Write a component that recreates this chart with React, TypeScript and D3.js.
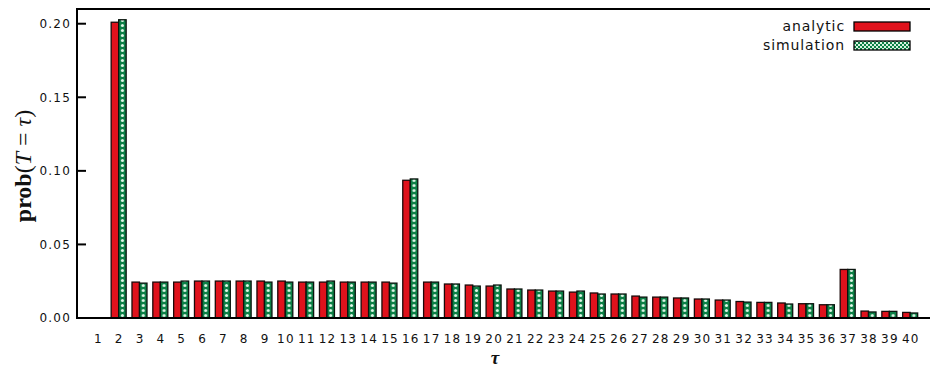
import React from "react";
import * as d3 from "d3";

// Waiting-time distribution: analytic prediction vs. simulation
const taus = d3.range(1, 41);
const analytic = [
  0, 0.201, 0.0244, 0.0244, 0.0244, 0.0251, 0.0251, 0.0251, 0.0251, 0.0251,
  0.0244, 0.0244, 0.0244, 0.0244, 0.0244, 0.0936, 0.0244, 0.0231, 0.0224, 0.0217,
  0.0197, 0.019, 0.0183, 0.0176, 0.017, 0.0163, 0.0149, 0.0142, 0.0136, 0.0129,
  0.0122, 0.0112, 0.0106, 0.0102, 0.0097, 0.009, 0.033, 0.0047, 0.0045, 0.0038,
];
const simulation = [
  0, 0.2027, 0.0237, 0.0244, 0.0251, 0.0251, 0.0251, 0.0251, 0.0244, 0.0244,
  0.0244, 0.0251, 0.0244, 0.0244, 0.0237, 0.0945, 0.0244, 0.0231, 0.0217, 0.0224,
  0.0197, 0.019, 0.0183, 0.0183, 0.0163, 0.0163, 0.0142, 0.0142, 0.0136, 0.0129,
  0.0122, 0.0108, 0.0106, 0.0095, 0.0097, 0.009, 0.033, 0.0041, 0.0045, 0.0034,
];
const yTicks = [0, 0.05, 0.1, 0.15, 0.2];

const W = 930;
const H = 368;
const left = 77;
const right = 931;
const top = 9;
const bottom = 318;

const RED = "#e0121c";
const GREEN = "#0c8046";
const tickFont = "'DejaVu Sans', sans-serif";

export default function App() {
  const x = d3.scaleLinear().domain([0, 41]).range([left, right]);
  const y = d3.scaleLinear().domain([0, 0.21]).range([bottom, top]);
  const step = x(2) - x(1);
  const bw = step * 0.36;

  return (
    <svg
      width={W}
      height={H}
      style={{ position: "absolute", left: 0, top: 0, background: "#fff" }}
    >
      <defs>
        <pattern
          id="dots"
          patternUnits="userSpaceOnUse"
          x={x(1) + bw / 2 - step / 2}
          y={bottom}
          width={step}
          height={5}
        >
          <rect width={step} height={5} fill={GREEN} />
          <circle cx={step / 2} cy={2.5} r={1.5} fill="#e2f7e8" />
        </pattern>
        <pattern id="checker" patternUnits="userSpaceOnUse" width={4} height={4}>
          <rect width={4} height={4} fill="#d8f2e0" />
          <rect width={2} height={2} fill={GREEN} />
          <rect x={2} y={2} width={2} height={2} fill={GREEN} />
        </pattern>
      </defs>

      {/* bars */}
      {taus.map((t, i) => (
        <g key={t}>
          {analytic[i] > 0 && (
            <rect
              x={x(t) - bw}
              y={y(analytic[i])}
              width={bw}
              height={bottom - y(analytic[i])}
              fill={RED}
              stroke="#1a0a0a"
              strokeWidth={1.3}
            />
          )}
          {simulation[i] > 0 && (
            <rect
              x={x(t)}
              y={y(simulation[i])}
              width={bw}
              height={bottom - y(simulation[i])}
              fill="url(#dots)"
              stroke="#0a140e"
              strokeWidth={1.3}
            />
          )}
        </g>
      ))}

      {/* frame */}
      <rect
        x={left}
        y={top}
        width={right - left}
        height={bottom - top}
        fill="none"
        stroke="#000"
        strokeWidth={2}
      />

      {/* y ticks */}
      {yTicks.map((v) => (
        <g key={v}>
          <line x1={left} x2={left + 9} y1={y(v)} y2={y(v)} stroke="#000" strokeWidth={2} />
          <text
            x={71}
            y={y(v)}
            dy="0.36em"
            textAnchor="end"
            fontFamily={tickFont}
            fontSize={12}
            letterSpacing={1.2}
            fill="#111"
          >
            {d3.format(".2f")(v)}
          </text>
        </g>
      ))}

      {/* x tick labels */}
      {taus.map((t) => (
        <text
          key={t}
          x={x(t) + 0.6}
          y={343}
          textAnchor="middle"
          fontFamily={tickFont}
          fontSize={12}
          letterSpacing={1.2}
          fill="#111"
        >
          {t}
        </text>
      ))}

      {/* axis titles */}
      <text
        transform="translate(31,166) rotate(-90)"
        textAnchor="middle"
        fontFamily="'Liberation Serif', serif"
        fontSize={24}
        fill="#111"
      >
        <tspan fontWeight="bold">prob</tspan>
        <tspan>(</tspan>
        <tspan fontStyle="italic">T</tspan>
        <tspan> = </tspan>
        <tspan fontStyle="italic">τ</tspan>
        <tspan>)</tspan>
      </text>
      <text
        x={495}
        y={364}
        textAnchor="middle"
        fontFamily="'Liberation Serif', serif"
        fontSize={19}
        fontStyle="italic"
        fontWeight="bold"
        fill="#111"
      >
        τ
      </text>

      {/* legend */}
      <text
        x={845}
        y={31}
        textAnchor="end"
        fontFamily={tickFont}
        fontSize={14}
        letterSpacing={0.9}
        fill="#111"
      >
        analytic
      </text>
      <rect x={854} y={22} width={56} height={9} fill={RED} stroke="#000" strokeWidth={1.3} />
      <text
        x={845}
        y={50}
        textAnchor="end"
        fontFamily={tickFont}
        fontSize={14}
        letterSpacing={0.9}
        fill="#111"
      >
        simulation
      </text>
      <rect x={854} y={41} width={56} height={9} fill="url(#checker)" stroke="#000" strokeWidth={1.3} />
    </svg>
  );
}
